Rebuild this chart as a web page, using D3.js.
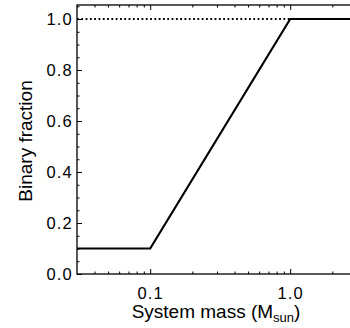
<!DOCTYPE html>
<html>
<head>
<meta charset="utf-8">
<script src="https://cdn.jsdelivr.net/npm/d3@7"></script>
<style>
  body { margin: 0; background: #fff; }
  svg { display: block; }
  svg text { font-family: 'Liberation Sans', Arial, Helvetica, sans-serif; }
</style>
</head>
<body>
<svg id="chart" width="350" height="328"></svg>
<script>
// binary fraction vs system mass
const massPoints = [0.03, 0.1, 1.0, 3.0];
const fractionPoints = [0.1, 0.1, 1.0, 1.0];
const refMass = [0.03, 1.0];
const refFraction = [1.0, 1.0];

const xMajor = [0.1, 1.0];
const xMajorLabels = ['0.1', '1.0'];
const xMinor = [0.04, 0.05, 0.06, 0.07, 0.08, 0.09, 0.2, 0.3, 0.4, 0.5, 0.6, 0.7, 0.8, 0.9, 2, 3];
const yMajor = [0, 0.2, 0.4, 0.6, 0.8, 1.0];
const yMinor = [0.05, 0.1, 0.15, 0.25, 0.3, 0.35, 0.45, 0.5, 0.55, 0.65, 0.7, 0.75, 0.85, 0.9, 0.95, 1.05];

const margin = { top: 5, left: 77 },
  plotRight = 357,
  plotBottom = 274;

const svg = d3.select('#chart');

const x = d3
  .scaleLog()
  .domain([0.03, 3])
  .range([margin.left, plotRight]);

const y = d3
  .scaleLinear()
  .domain([0, 1.055])
  .range([plotBottom, margin.top]);

const tickFont = g => {
  g.attr('font-size', 16.5).attr('font-family', "'Liberation Sans', Arial, sans-serif");
  g.selectAll('text')
    .attr('fill', '#000')
    .attr('font-size', 16.5)
    .attr('letter-spacing', 1.2);
};

const clean = g => {
  g.select('.domain').remove();
  g.selectAll('line').attr('stroke', '#000').attr('stroke-width', 1);
};

// bottom axis, ticks pointing inward
svg
  .append('g')
  .attr('transform', `translate(0,${plotBottom})`)
  .call(
    d3
      .axisBottom(x)
      .tickValues(xMajor)
      .tickSize(-5)
      .tickPadding(13)
      .tickFormat((d, i) => xMajorLabels[i])
  )
  .call(clean)
  .call(tickFont);

svg
  .append('g')
  .attr('transform', `translate(0,${plotBottom})`)
  .call(d3.axisBottom(x).tickValues(xMinor).tickSize(-2.5).tickFormat(''))
  .call(clean);

// top axis
svg
  .append('g')
  .attr('transform', `translate(0,${margin.top})`)
  .call(d3.axisTop(x).tickValues(xMajor).tickSize(-5).tickFormat(''))
  .call(clean);

svg
  .append('g')
  .attr('transform', `translate(0,${margin.top})`)
  .call(d3.axisTop(x).tickValues(xMinor).tickSize(-2.5).tickFormat(''))
  .call(clean);

// left axis
svg
  .append('g')
  .attr('transform', `translate(${margin.left},0)`)
  .call(
    d3
      .axisLeft(y)
      .tickValues(yMajor)
      .tickSize(-5)
      .tickPadding(4)
      .tickFormat(d3.format('.1f'))
  )
  .call(clean)
  .call(tickFont);

svg
  .append('g')
  .attr('transform', `translate(${margin.left},0)`)
  .call(d3.axisLeft(y).tickValues(yMinor).tickSize(-2.5).tickFormat(''))
  .call(clean);

// frame
svg
  .append('rect')
  .attr('x', margin.left)
  .attr('y', margin.top)
  .attr('width', plotRight - margin.left)
  .attr('height', plotBottom - margin.top)
  .attr('fill', 'none')
  .attr('stroke', '#000')
  .attr('stroke-width', 1.3);

const line = d3
  .line()
  .x(d => x(d[0]))
  .y(d => y(d[1]));

// dotted reference at unity
svg
  .append('path')
  .datum(d3.zip(refMass, refFraction))
  .attr('fill', 'none')
  .attr('stroke', '#000')
  .attr('stroke-width', 2)
  .attr('stroke-dasharray', '1.8,2.5')
  .attr('d', line);

svg
  .append('path')
  .datum(d3.zip(massPoints, fractionPoints))
  .attr('fill', 'none')
  .attr('stroke', '#000')
  .attr('stroke-width', 2.2)
  .attr('stroke-linejoin', 'miter')
  .attr('d', line);

// axis titles
const xTitle = svg
  .append('text')
  .attr('x', 216)
  .attr('y', 317.5)
  .attr('text-anchor', 'middle')
  .attr('font-size', 19);

xTitle.append('tspan').text('System mass (M');
xTitle
  .append('tspan')
  .attr('dy', 4)
  .attr('font-size', 13)
  .text('sun');
xTitle.append('tspan').attr('dy', -4).text(')');

svg
  .append('text')
  .attr('transform', 'translate(32,141) rotate(-90)')
  .attr('text-anchor', 'middle')
  .attr('font-size', 19)
  .text('Binary fraction');
</script>
</body>
</html>
